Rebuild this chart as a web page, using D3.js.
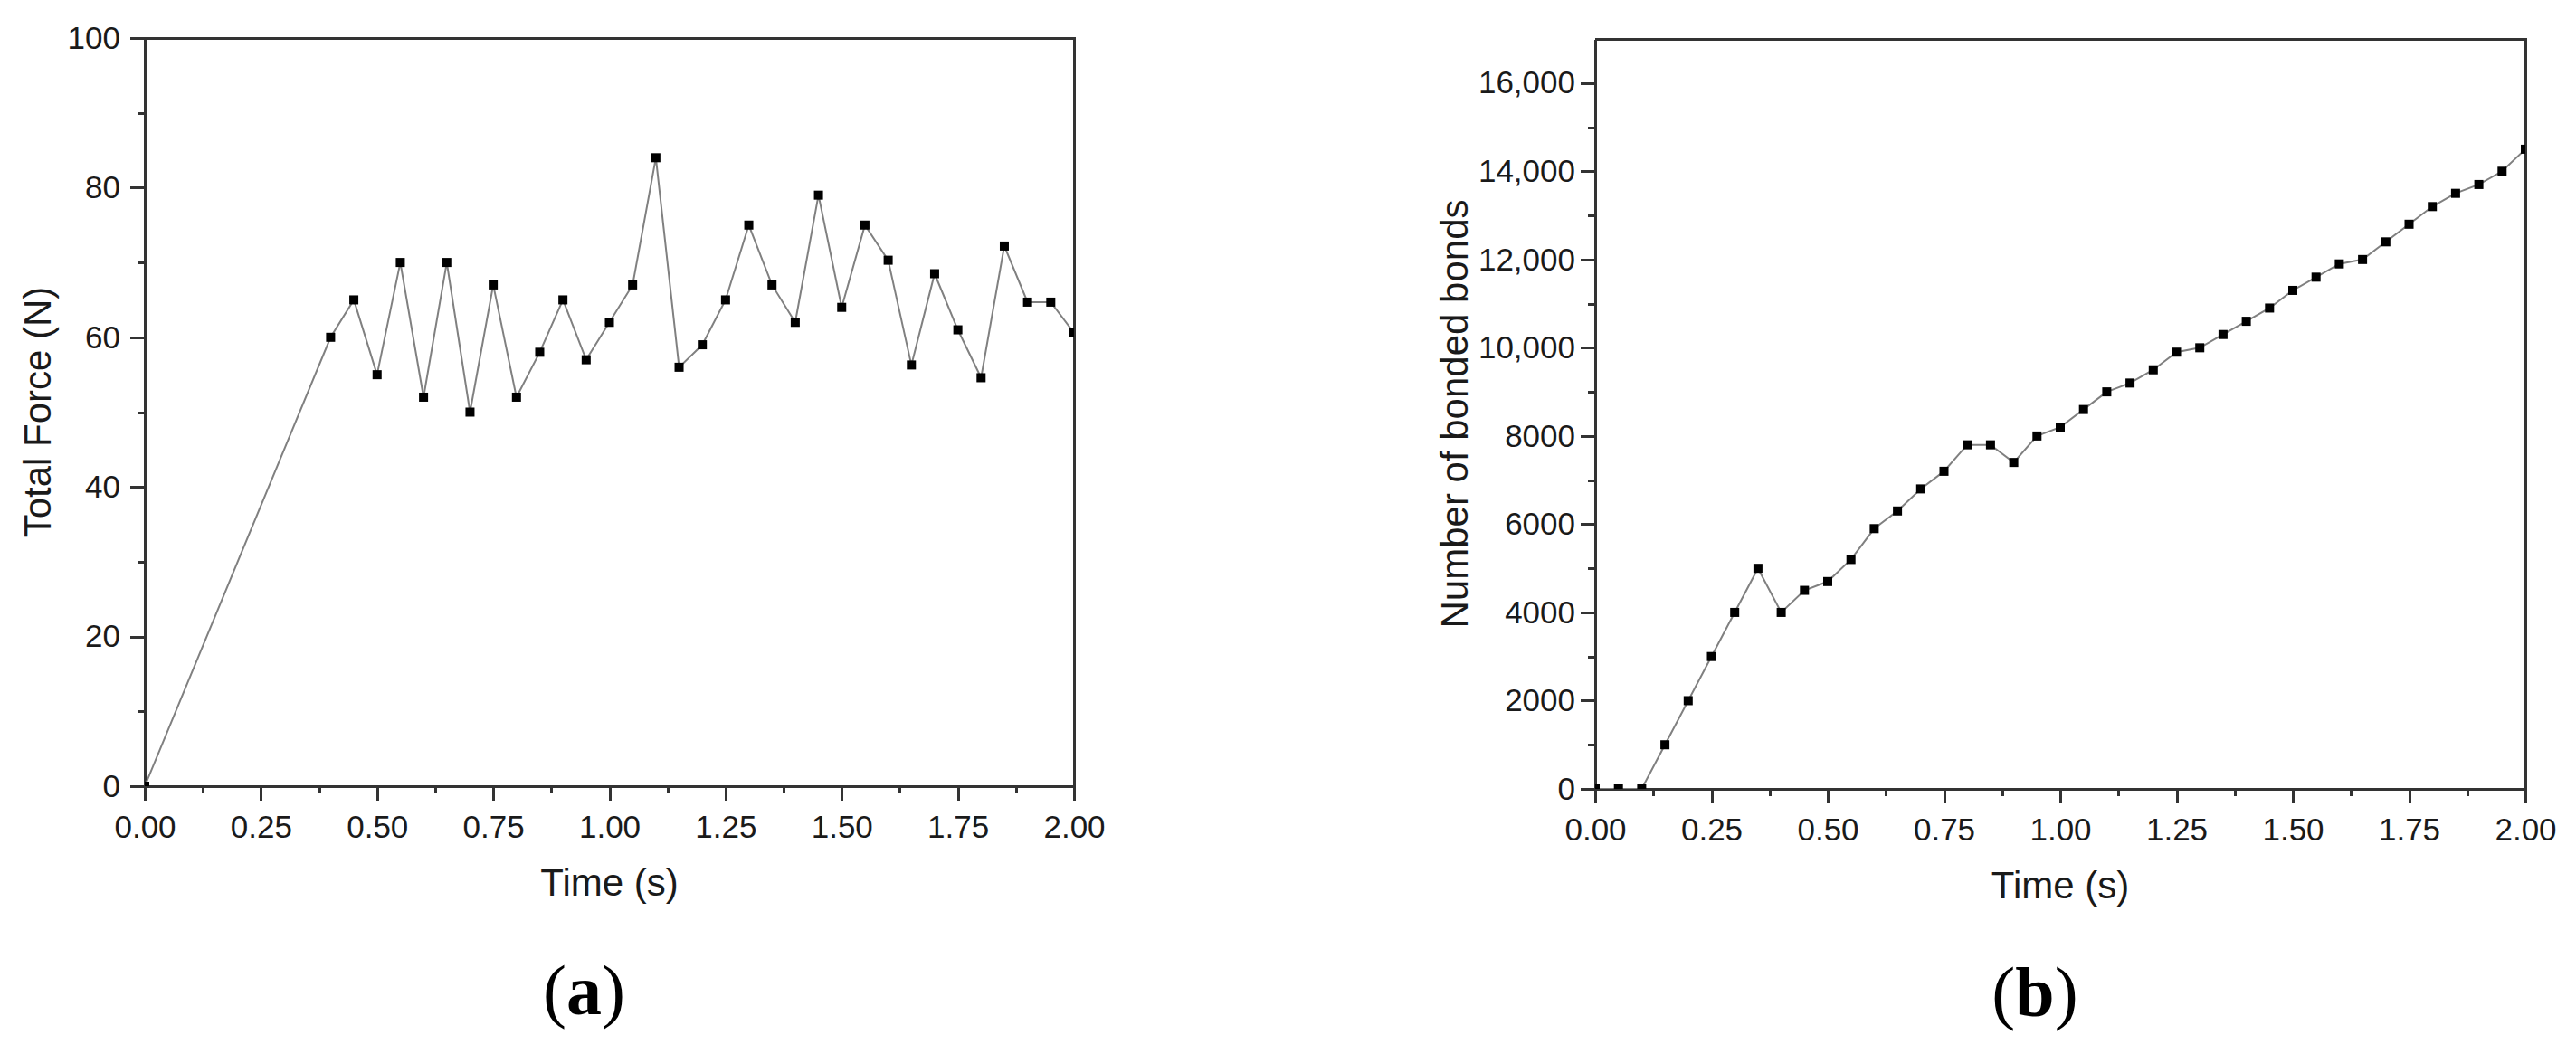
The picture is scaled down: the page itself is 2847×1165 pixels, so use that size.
<!DOCTYPE html>
<html>
<head>
<meta charset="utf-8">
<script src="https://cdn.jsdelivr.net/npm/d3@7"></script>
<style>
  html, body { margin: 0; padding: 0; background: #fff; }
  svg { display: block; }
  .axis path, .axis line { stroke: #333; stroke-width: 3; shape-rendering: crispEdges; }
  .axis text { font-family: "Liberation Sans", Arial, sans-serif; font-size: 35px; fill: #1a1a1a; }
  .axis-title { font-family: "Liberation Sans", Arial, sans-serif; font-size: 42px; fill: #1a1a1a; }
  .panel-tag { font-family: "Liberation Serif", "Times New Roman", serif; font-size: 78px; fill: #000; }
  .frame { stroke: #333; stroke-width: 3; fill: none; shape-rendering: crispEdges; }
  .series { fill: none; stroke: #808080; stroke-width: 2; }
  .marker { fill: #000; }
</style>
</head>
<body>
<div id="chart"></div>
<script>
// (a) total force vs time
var forceTime = [0, 0.40, 0.45, 0.50, 0.55, 0.60, 0.65, 0.70, 0.75, 0.80, 0.85, 0.90, 0.95, 1.00, 1.05, 1.10, 1.15,
  1.20, 1.25, 1.30, 1.35, 1.40, 1.45, 1.50, 1.55, 1.60, 1.65, 1.70, 1.75, 1.80, 1.85, 1.90, 1.95, 2.00];
var forceValues = [0, 60, 65, 55, 70, 52, 70, 50, 67, 52, 58, 65, 57, 62, 67, 84, 56,
  59, 65, 75, 67, 62, 79, 64, 75, 70.3, 56.3, 68.5, 61, 54.6, 72.2, 64.7, 64.7, 60.6];

// (b) number of bonded bonds vs time
var bondTime = [0, 0.05, 0.10, 0.15, 0.20, 0.25, 0.30, 0.35, 0.40, 0.45, 0.50, 0.55, 0.60, 0.65, 0.70, 0.75, 0.80,
  0.85, 0.90, 0.95, 1.00, 1.05, 1.10, 1.15, 1.20, 1.25, 1.30, 1.35, 1.40, 1.45, 1.50, 1.55, 1.60, 1.65, 1.70,
  1.75, 1.80, 1.85, 1.90, 1.95, 2.00];
var bondValues = [0, 0, 0, 1000, 2000, 3000, 4000, 5000, 4000, 4500, 4700, 5200, 5900, 6300, 6800, 7200, 7800,
  7800, 7400, 8000, 8200, 8600, 9000, 9200, 9500, 9900, 10000, 10300, 10600, 10900, 11300, 11600, 11900, 12000, 12400,
  12800, 13200, 13500, 13700, 14000, 14500];

// ticks
var timeTicks = [0, 0.25, 0.5, 0.75, 1.0, 1.25, 1.5, 1.75, 2.0];
var timeMinor = [0.125, 0.375, 0.625, 0.875, 1.125, 1.375, 1.625, 1.875];
var forceTicks = [0, 20, 40, 60, 80, 100];
var forceMinor = [10, 30, 50, 70, 90];
var bondTicks = [0, 2000, 4000, 6000, 8000, 10000, 12000, 14000, 16000];
var bondMinor = [1000, 3000, 5000, 7000, 9000, 11000, 13000, 15000];

var W = 2847, H = 1165;
var svg = d3.select("#chart").append("svg").attr("width", W).attr("height", H).attr("viewBox", "0 0 " + W + " " + H);
svg.append("rect").attr("width", W).attr("height", H).attr("fill", "#fff");

function panel(o) {
  var x = d3.scaleLinear().domain([0, 2]).range([o.left, o.right]);
  var y = d3.scaleLinear().domain([0, o.yMax]).range([o.bottom, o.top]);
  var g = svg.append("g");

  // frame: only top + right are plain lines, bottom/left come from the axes
  g.append("path").attr("class", "frame")
    .attr("d", "M" + o.left + "," + o.top + "H" + o.right + "V" + o.bottom);

  var xAxis = g.append("g").attr("class", "axis").attr("transform", "translate(0," + o.bottom + ")")
    .call(d3.axisBottom(x).tickValues(timeTicks).tickSize(16).tickSizeOuter(0).tickPadding(16).tickFormat(d3.format(".2f")));
  g.append("g").attr("class", "axis").attr("transform", "translate(0," + o.bottom + ")")
    .call(d3.axisBottom(x).tickValues(timeMinor).tickSize(8).tickSizeOuter(0).tickFormat(""))
    .select(".domain").remove();

  g.append("g").attr("class", "axis").attr("transform", "translate(" + o.left + ",0)")
    .call(d3.axisLeft(y).tickValues(o.yTicks).tickSize(16).tickSizeOuter(0).tickPadding(o.yPad).tickFormat(o.yFormat));
  g.append("g").attr("class", "axis").attr("transform", "translate(" + o.left + ",0)")
    .call(d3.axisLeft(y).tickValues(o.yMinor).tickSize(8).tickSizeOuter(0).tickFormat(""))
    .select(".domain").remove();

  // data, clipped to the plot box (end markers are cut in half like the original)
  var clipId = "clip-" + o.id;
  svg.append("clipPath").attr("id", clipId).append("rect")
    .attr("x", o.left).attr("y", o.top).attr("width", o.right - o.left).attr("height", o.bottom - o.top);
  var pts = o.t.map(function (t, i) { return [t, o.v[i]]; });
  var data = g.append("g").attr("clip-path", "url(#" + clipId + ")");
  data.append("path").attr("class", "series").datum(pts)
    .attr("d", d3.line().x(function (d) { return x(d[0]); }).y(function (d) { return y(d[1]); }));
  var S = 10;
  data.selectAll("rect.marker").data(pts.filter(function (d, i) { return o.markAll || i > 0; })).enter().append("rect")
    .attr("class", "marker")
    .attr("x", function (d) { return x(d[0]) - S / 2; }).attr("y", function (d) { return y(d[1]) - S / 2; })
    .attr("width", S).attr("height", S);

  // titles
  var cx = (o.left + o.right) / 2, cy = (o.top + o.bottom) / 2;
  g.append("text").attr("class", "axis-title").attr("text-anchor", "middle")
    .attr("x", cx).attr("y", o.xTitleY).text("Time (s)");
  g.append("text").attr("class", "axis-title").attr("text-anchor", "middle")
    .attr("transform", "translate(" + o.yTitleX + "," + cy + ") rotate(-90)").text(o.yTitle);

  var tag = g.append("text").attr("class", "panel-tag").attr("text-anchor", "middle")
    .attr("x", cx - 28).attr("y", o.tagY);
  tag.append("tspan").text("(");
  tag.append("tspan").attr("font-weight", "bold").text(o.tag);
  tag.append("tspan").text(")");
}

panel({
  id: "a", left: 160, right: 1187, top: 42, bottom: 869, yMax: 100,
  t: forceTime, v: forceValues, markAll: true,
  yTicks: forceTicks, yMinor: forceMinor, yPad: 11, yFormat: d3.format("d"),
  yTitle: "Total Force (N)", yTitleX: 56, xTitleY: 990, tag: "a", tagY: 1121
});

panel({
  id: "b", left: 1763, right: 2791, top: 43, bottom: 872, yMax: 17000,
  t: bondTime, v: bondValues, markAll: true,
  yTicks: bondTicks, yMinor: bondMinor, yPad: 6,
  yFormat: function (v) { return v >= 10000 ? d3.format(",")(v) : String(v); },
  yTitle: "Number of bonded bonds", yTitleX: 1622, xTitleY: 993, tag: "b", tagY: 1123
});
</script>
</body>
</html>
